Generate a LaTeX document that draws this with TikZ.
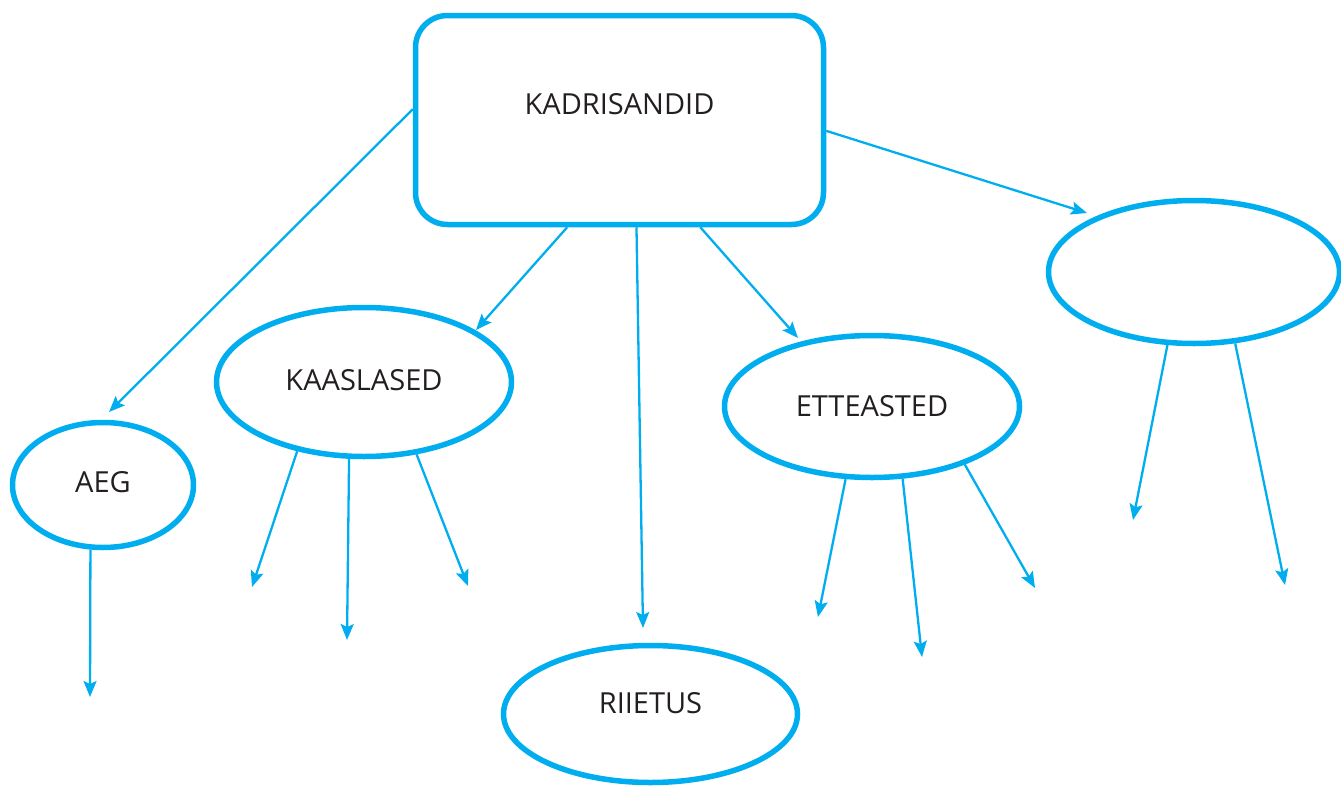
\documentclass[tikz,border=0pt]{standalone}
\usepackage{fontspec}
\setmainfont{Open Sans}
\usetikzlibrary{arrows.meta,shapes.geometric}
\definecolor{cy}{HTML}{00AEEF}
\definecolor{txt}{HTML}{231F20}
\tikzset{
  shp/.style={draw=cy, line width=5.5pt, inner sep=0pt, text=txt, font=\fontsize{29}{29}\selectfont, text height=21pt, text depth=0pt},
  oval/.style={shp, ellipse},
  arr/.style={draw=cy, line width=2.3pt, -{Stealth[length=16pt,width=13pt,inset=3pt]}}
}
\begin{document}
\begin{tikzpicture}[x=1pt,y=-1pt]
\useasboundingbox (0,0) rectangle (1341,787);
\node[shp, rectangle, rounded corners=32pt, minimum width=408pt, minimum height=209pt, text depth=32pt] (top) at (619.5,120) {KADRISANDID};
\node[oval, minimum width=181pt, minimum height=125pt, text depth=6pt] (aeg) at (103,485) {AEG};
\node[oval, minimum width=295pt, minimum height=149pt, text depth=4pt] (kaas) at (364,382) {KAASLASED};
\node[oval, minimum width=295pt, minimum height=142pt, text depth=2pt] (ette) at (872,406.5) {ETTEASTED};
\node[oval, minimum width=291pt, minimum height=143pt] (empty) at (1194,272) {};
\node[oval, minimum width=294pt, minimum height=137pt, text depth=22pt] (riie) at (650.5,714) {RIIETUS};
% free ends
\coordinate (ta) at (109,412);
\coordinate (tk) at (476,330);
\coordinate (tr) at (643,628);
\coordinate (te) at (798,338);
\coordinate (tm) at (1087,213);
\coordinate (a1) at (90,697);
\coordinate (k1) at (252,587);
\coordinate (k2) at (347,640);
\coordinate (k3) at (468,586);
\coordinate (e1) at (818,617);
\coordinate (e2) at (922,657);
\coordinate (e3) at (1035,588);
\coordinate (m1) at (1133,520);
\coordinate (m2) at (1285,585);
% from top
\draw[arr] (top.177) -- (ta);
\draw[arr] (top.244.5) -- (tk);
\draw[arr] (top.279.7) -- (tr);
\draw[arr] (top.307.7) -- (te);
\draw[arr] (top.357) -- (tm);
% from ellipses
\draw[arr] (aeg.259.2) -- (a1);
\draw[arr] (kaas.226.2) -- (k1);
\draw[arr] (kaas.259.1) -- (k2);
\draw[arr] (kaas.306.1) -- (k3);
\draw[arr] (ette.250.5) -- (e1);
\draw[arr] (ette.293.4) -- (e2);
\draw[arr] (ette.328.6) -- (e3);
\draw[arr] (empty.250.6) -- (m1);
\draw[arr] (empty.300.4) -- (m2);
\end{tikzpicture}
\end{document}
